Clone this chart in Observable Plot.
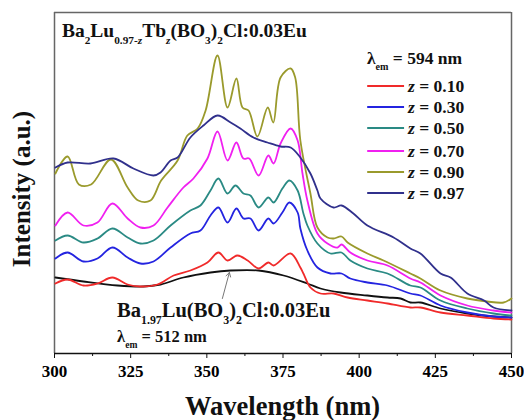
<!DOCTYPE html>
<html><head><meta charset="utf-8">
<script src="https://cdn.jsdelivr.net/npm/d3@7"></script>
<script src="https://cdn.jsdelivr.net/npm/@observablehq/plot@0.6"></script>
<style>body{margin:0;background:#fff} svg{display:block;overflow:visible}</style>
</head><body><div id="chart"></div>
<script>
const xTicks = [300, 325, 350, 375, 400, 425, 450];
const xMinorTicks = [312.5, 337.5, 362.5, 387.5, 412.5, 437.5];
const seriesNames = ["z = 0.10", "z = 0.30", "z = 0.50", "z = 0.70", "z = 0.90", "z = 0.97"];
const seriesColors = ["#f02a2a", "#2424e0", "#2a8a84", "#f020f0", "#9a9a2c", "#30308c"];
const refName = "Ba1.97Lu(BO3)2Cl:0.03Eu";

// z = 0.10
const wl_010 = [300.3,304.3,309.5,314.1,319,324,328.2,333.8,339.1,344.6,350.2,353.8,356.8,360,363.4,367,370.2,371.9,377.5,380.7,381.7,384,387.3,391.6,396.2,402.7,409.3,416.8,420.1,426.7,435.5,444.1,450];
const in_010 = [70,74,68,70,76,69,67,69,78,83,91,101,93,98,93,85,91,88,100,86,80,66,60,60,56,53,50,46,46,41,38,35,34];
// z = 0.30
const wl_030 = [300.3,304.3,309.5,314.1,319,324,328.2,332.5,338.1,344.6,347.9,351.2,353.8,356.8,359.7,362,364.3,367,370.2,371.9,374.8,377.1,379.8,380.7,383,386.3,390.6,394.2,397.1,402.7,409.3,416.8,420.1,426.7,435.5,444.1,450];
const in_030 = [95,101,92,95,106,96,90,92,106,120,123,138,146,131,145,135,135,123,135,130,141,151,141,125,103,86,80,80,75,71,68,60,58,48,41,37,36];
// z = 0.50
const wl_050 = [300.3,304.3,309.5,314.1,319,324,328.2,332.5,338.1,344.6,347.9,351.2,353.8,356.8,359.4,362,364.3,367,370.2,371.9,374.8,377.1,379.8,381.7,383,386.3,390.6,394.2,397.1,402.7,409.3,416.8,420.1,426.7,435.5,444.1,450];
const in_050 = [113,118,111,115,125,116,110,113,128,143,148,163,175,160,168,160,158,146,156,151,165,173,163,140,128,110,100,101,93,85,80,68,66,53,45,40,38];
// z = 0.70
const wl_070 = [300.3,304.3,309.5,314.1,319,324,328.2,332.5,337.1,342.3,345.6,350.2,353.5,356.8,359.7,362,363.9,367,370.2,371.9,374.2,377.5,379.8,381.4,383,386.3,389.6,392.9,394.2,397.1,402.7,409.3,416.8,420.1,426.7,435.5,444.1,450];
const in_070 = [128,141,128,131,150,135,126,128,146,166,175,195,222,193,211,195,195,178,198,190,210,225,213,180,153,120,110,106,109,101,93,88,75,71,58,48,43,41];
// z = 0.90
const wl_090 = [300.3,304.3,308,312,318.5,324,327.5,331.5,335,340.4,343.6,347,349.6,353.5,356.8,359.7,361.7,363.7,366.6,370,371.8,374.2,377.5,379,380.7,384,386.3,389.6,391.6,394.2,396.2,402.7,408,416.8,420.1,426.7,435.5,442,447.4,450];
const in_090 = [180,197,169,169,194,166,153,153,173,193,218,225,243,298,246,275,246,243,217,246,231,276,285,276,213,160,126,116,115,117,111,100,93,80,75,63,55,52,51,55];
// z = 0.97
const wl_097 = [300.3,304.3,311.8,319.4,325.9,332.5,334.8,338.1,340.4,344.6,348.9,353.5,357.8,361,365.3,369.9,374.2,377.5,380.7,384,386.3,387.3,391.6,394.2,398.1,402.7,411.3,416.8,420.1,426.7,430,435.5,441,444.1,450];
const in_097 = [186,191,190,195,185,178,181,193,196,216,228,238,231,225,216,211,207,206,196,180,163,155,146,148,140,128,116,105,100,80,76,60,53,46,43];
// reference Ba1.97Lu(BO3)2Cl:0.03Eu
const wl_ref = [300.3,309.5,320.7,329.2,334.8,342.3,351.2,357.8,367,375.2,383,387.3,393.9,402.7,409.3,413.6,416.8,420.1,426.7,435.5,444.1,450];
const in_ref = [76,72,68,67,69,76,81,83,83,78,70,65,61,58,56,55,51,51,45,40,37,36];

const seriesWl = [wl_010, wl_030, wl_050, wl_070, wl_090, wl_097];
const seriesIn = [in_010, in_030, in_050, in_070, in_090, in_097];

const rows = [];
seriesNames.forEach((name, i) => seriesWl[i].forEach((w, j) => rows.push({series: name, wl: w, v: seriesIn[i][j]})));
const refRows = wl_ref.map((w, j) => ({wl: w, v: in_ref[j]}));

const serif = "'Liberation Serif','Times New Roman',serif";

const plot = Plot.plot({
  width: 524, height: 420,
  marginLeft: 54, marginRight: 13, marginTop: 12, marginBottom: 67,
  style: {fontFamily: serif, background: "#fff"},
  x: {domain: [300, 450]},
  y: {domain: [0, 341], axis: null},
  color: {domain: seriesNames, range: seriesColors},
  marks: [
    Plot.ruleX([300, 450], {stroke: "#666", strokeWidth: 1.5}),
    Plot.ruleY([341], {stroke: "#666", strokeWidth: 1.5}),
    Plot.line(refRows, {x: "wl", y: "v", stroke: "#111", strokeWidth: 1.8, curve: "catmull-rom"}),
    Plot.line(rows, {x: "wl", y: "v", z: "series", stroke: "series", strokeWidth: 1.8, curve: "catmull-rom"}),
    Plot.arrow([{x1: 355.1, y1: 55, x2: 357.4, y2: 81}], {x1: "x1", y1: "y1", x2: "x2", y2: "y2", stroke: "#777", strokeWidth: 1, headLength: 7}),
    Plot.ruleY([0], {stroke: "#111", strokeWidth: 1.3}),
    Plot.axisX({ticks: xTicks, tickSize: 5, tickPadding: 6, tickFormat: d => String(d), fontSize: 17, fontWeight: "bold", label: null, stroke: "#111"}),
    Plot.axisX({ticks: xMinorTicks, tickSize: 3, tickFormat: () => "", label: null, stroke: "#111"})
  ]
});
document.getElementById("chart").appendChild(plot);

const svg = d3.select(plot);
const xs = plot.scale("x"), ys = plot.scale("y");
const X = v => xs.apply(v), Y = v => ys.apply(v);

function rich(x, y, parts, size, anchor) {
  const t = svg.append("text").attr("x", x).attr("y", y)
    .attr("font-family", serif).attr("font-weight", "bold").attr("font-size", size)
    .attr("fill", "#111").attr("text-anchor", anchor || "start");
  let shift = 0;
  parts.forEach(p => {
    const target = p.sub ? size * 0.35 : 0;
    const sp = t.append("tspan").text(p.t).attr("dy", target - shift);
    if (p.sub) sp.attr("font-size", size * 0.58);
    if (p.it) sp.attr("font-style", "italic");
    shift = target;
  });
  return t;
}

// title inside the frame
rich(X(302.6), Y(316), [
  {t: "Ba"}, {t: "2", sub: true}, {t: "Lu"}, {t: "0.97-", sub: true}, {t: "z", sub: true, it: true},
  {t: "Tb"}, {t: "z", sub: true, it: true}, {t: "(BO"}, {t: "3", sub: true}, {t: ")"}, {t: "2", sub: true},
  {t: "Cl:0.03Eu"}
], 19.5);

// legend
rich(X(402.7), Y(289), [{t: "λ"}, {t: "em", sub: true}, {t: " = 594 nm"}], 17.5);
const legendY = [267, 246, 225, 202, 181, 160];
seriesNames.forEach((name, i) => {
  svg.append("line").attr("x1", X(402.8)).attr("x2", X(414.9))
    .attr("y1", Y(legendY[i])).attr("y2", Y(legendY[i]))
    .attr("stroke", seriesColors[i]).attr("stroke-width", 1.8);
  rich(X(416.2), Y(legendY[i]) + 6, [{t: "z", it: true}, {t: name.slice(1)}], 17.5);
});

// reference annotation
rich(X(320.7), Y(36), [
  {t: "Ba"}, {t: "1.97", sub: true}, {t: "Lu(BO"}, {t: "3", sub: true}, {t: ")"}, {t: "2", sub: true}, {t: "Cl:0.03Eu"}
], 20.5);
rich(X(320.7), Y(11), [{t: "λ"}, {t: "em", sub: true}, {t: " = 512 nm"}], 16.5);

// axis titles
svg.append("text").attr("x", (X(300) + X(450)) / 2).attr("y", 415)
  .attr("text-anchor", "middle").attr("font-family", serif).attr("font-weight", "bold")
  .attr("font-size", 26.5).attr("fill", "#111").text("Wavelength (nm)");
svg.append("text").attr("transform", "translate(30,189) rotate(-90)")
  .attr("text-anchor", "middle").attr("font-family", serif).attr("font-weight", "bold")
  .attr("font-size", 25).attr("fill", "#111").text("Intensity (a.u.)");
</script></body></html>
